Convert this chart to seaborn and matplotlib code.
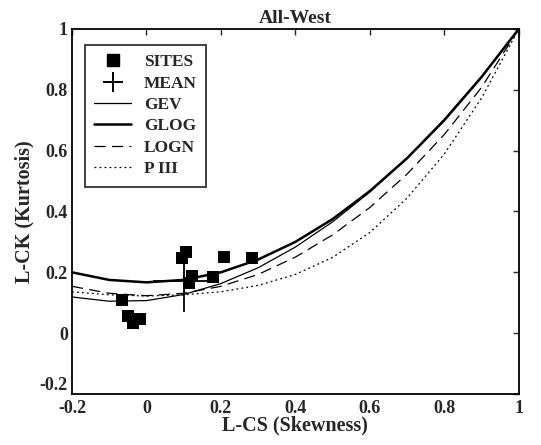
import seaborn as sns
import matplotlib.pyplot as plt
import pandas as pd

# L-moment ratio curves (at steps of 0.1 in L-CS)
tau3 = [-0.2, -0.1, 0.0, 0.1, 0.2, 0.3, 0.4, 0.5, 0.6, 0.7, 0.8, 0.9, 1.0]
gev = [0.119, 0.105, 0.107, 0.127, 0.163, 0.215, 0.283, 0.366, 0.464, 0.576, 0.703, 0.844, 1.0]
glog = [0.200, 0.175, 0.167, 0.175, 0.200, 0.242, 0.300, 0.375, 0.467, 0.575, 0.700, 0.842, 1.0]
logn = [0.154, 0.131, 0.123, 0.131, 0.154, 0.193, 0.250, 0.323, 0.413, 0.523, 0.653, 0.808, 1.0]
p3 = [0.136, 0.126, 0.122, 0.126, 0.136, 0.157, 0.193, 0.249, 0.331, 0.444, 0.589, 0.773, 1.0]

# sites
site_cs = [-0.065, -0.050, -0.035, -0.016, 0.095, 0.105, 0.115, 0.123, 0.178, 0.208, 0.283]
site_ck = [0.110, 0.058, 0.032, 0.046, 0.246, 0.268, 0.166, 0.188, 0.184, 0.249, 0.246]

# regional mean
mean_cs = [0.10]
mean_ck = [0.17]

curves = pd.DataFrame({'tau3': tau3, 'GEV': gev, 'GLOG': glog, 'LOGN': logn, 'P III': p3})
sites = pd.DataFrame({'cs': site_cs, 'ck': site_ck})

sns.set_style('white')
plt.rcParams['font.family'] = ['Liberation Serif', 'DejaVu Serif']
plt.rcParams['font.weight'] = 'bold'

fig = plt.figure(figsize=(5.41, 4.45), dpi=100)
ax = fig.add_axes([0.133, 0.1146, 0.826, 0.8204])

sns.scatterplot(data=sites, x='cs', y='ck', marker='s', s=75, color='black',
                edgecolor='black', linewidth=0, ax=ax, zorder=3)
ax.plot(mean_cs, mean_ck, marker='+', markersize=44, markeredgewidth=1.3,
        color='black', linestyle='none', zorder=4)

sns.lineplot(data=curves, x='tau3', y='GEV', color='black', linewidth=0.9, ax=ax)
sns.lineplot(data=curves, x='tau3', y='GLOG', color='black', linewidth=1.8, ax=ax)
sns.lineplot(data=curves, x='tau3', y='LOGN', color='black', linewidth=0.9, ax=ax)
ax.lines[-1].set_dashes((9, 5))
sns.lineplot(data=curves, x='tau3', y='P III', color='black', linewidth=0.9, ax=ax)
ax.lines[-1].set_dashes((1.5, 2.5))

# legend handles with matching look
h = {
    'SITES': plt.Line2D([], [], marker='s', markersize=8, color='black', linestyle='none'),
    'MEAN': plt.Line2D([], [], marker='+', markersize=15, markeredgewidth=1.4,
                       color='black', linestyle='none'),
    'GEV': plt.Line2D([], [], color='black', linewidth=0.9),
    'GLOG': plt.Line2D([], [], color='black', linewidth=1.8),
    'LOGN': plt.Line2D([], [], color='black', linewidth=0.9, dashes=(9, 5)),
    'P III': plt.Line2D([], [], color='black', linewidth=0.9, dashes=(1.5, 2.5)),
}
order = ['SITES', 'MEAN', 'GEV', 'GLOG', 'LOGN', 'P III']
leg = ax.legend([h[k] for k in order], order, loc='upper left', bbox_to_anchor=(0.029, 0.957),
                borderaxespad=0, frameon=True, fancybox=False, edgecolor='black',
                handlelength=2.1, handletextpad=0.75, labelspacing=0.3, borderpad=0.55,
                prop={'family': 'Liberation Serif', 'weight': 'bold', 'size': 12.5})
leg.get_frame().set_linewidth(1.3)

ticks = [-0.2, 0, 0.2, 0.4, 0.6, 0.8, 1]
tick_labels = ['-0.2', '0', '0.2', '0.4', '0.6', '0.8', '1']
ax.set_xlim(-0.2, 1)
ax.set_ylim(-0.2, 1)
ax.set_xticks(ticks)
ax.set_xticklabels(tick_labels)
ax.set_yticks(ticks)
ax.set_yticklabels(tick_labels)
ax.tick_params(direction='in', length=4, width=1, top=True, right=True, labelsize=13)
ax.tick_params(axis='x', pad=4)
ax.tick_params(axis='y', pad=3)
for lab in ax.get_xticklabels() + ax.get_yticklabels():
    lab.set_fontweight('bold')
# lowest y label sits just above the x labels, as in the original
ax.get_yticklabels()[0].set_verticalalignment('bottom')
for sp in ax.spines.values():
    sp.set_visible(True)
    sp.set_color('black')
    sp.set_linewidth(1.3)

ax.set_title('All-West', fontsize=14, fontweight='bold', pad=4)
ax.set_xlabel('L-CS (Skewness)', fontsize=14.5, fontweight='bold', labelpad=-1)
ax.set_ylabel('L-CK (Kurtosis)', fontsize=14.5, fontweight='bold', labelpad=4)

fig.savefig('out.png', dpi=100)
